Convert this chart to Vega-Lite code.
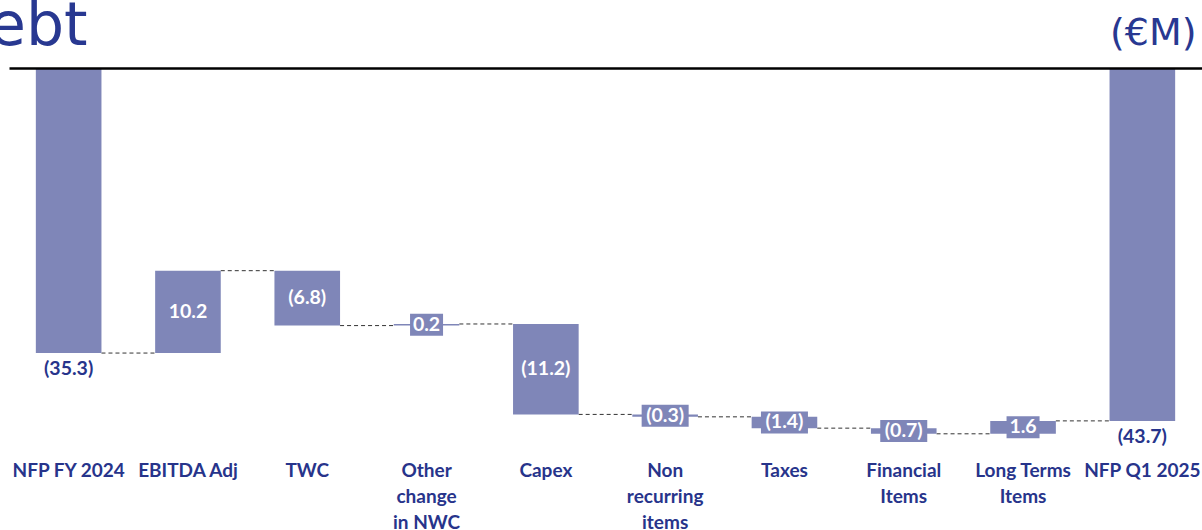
{
  "$schema": "https://vega.github.io/schema/vega-lite/v6.json",
  "width": 1193,
  "height": 387.6,
  "autosize": "none",
  "padding": {"left": 9, "top": 68, "right": 0, "bottom": 74.4},
  "background": "white",
  "config": {"view": {"stroke": null}},
  "title": {"text": "ebt", "anchor": "start", "frame": "group", "font": "DejaVu Sans", "fontSize": 60, "fontWeight": "normal", "color": "#283891", "dx": -20, "offset": -44},
  "datasets": {
    "wf": [
      {"cat": "NFP FY 2024", "start": 0, "end": -35.3, "label": "(35.3)", "next": "EBITDA Adj"},
      {"cat": "EBITDA Adj", "start": -35.3, "end": -25.1, "label": "10.2", "next": "TWC"},
      {"cat": "TWC", "start": -25.1, "end": -31.9, "label": "(6.8)", "next": "Other\nchange\nin NWC"},
      {"cat": "Other\nchange\nin NWC", "start": -31.9, "end": -31.7, "label": "0.2", "next": "Capex"},
      {"cat": "Capex", "start": -31.7, "end": -42.9, "label": "(11.2)", "next": "Non\nrecurring\nitems"},
      {"cat": "Non\nrecurring\nitems", "start": -42.9, "end": -43.2, "label": "(0.3)", "next": "Taxes"},
      {"cat": "Taxes", "start": -43.2, "end": -44.6, "label": "(1.4)", "next": "Financial\nItems"},
      {"cat": "Financial\nItems", "start": -44.6, "end": -45.3, "label": "(0.7)", "next": "Long Terms\nItems"},
      {"cat": "Long Terms\nItems", "start": -45.3, "end": -43.7, "label": "1.6", "next": "NFP Q1 2025"},
      {"cat": "NFP Q1 2025", "start": 0, "end": -43.7, "label": "(43.7)", "next": null}
    ]
  },
  "data": {"name": "wf"},
  "layer": [
    {
      "transform": [{"filter": "datum.next != null"}],
      "mark": {"type": "rule", "color": "#333333", "strokeDash": [4, 3], "strokeWidth": 1},
      "encoding": {
        "x": {"field": "cat", "type": "nominal", "sort": null, "bandPosition": 1,
          "scale": {"domain": ["NFP FY 2024", "EBITDA Adj", "TWC", "Other\nchange\nin NWC", "Capex", "Non\nrecurring\nitems", "Taxes", "Financial\nItems", "Long Terms\nItems", "NFP Q1 2025"], "paddingInner": 0.45, "paddingOuter": 0.225},
          "axis": {"orient": "top", "domain": true, "domainColor": "#000000", "domainWidth": 2.5, "ticks": false, "labels": false, "grid": false, "title": "(€M)", "titleFont": "DejaVu Sans", "titleFontSize": 38, "titleFontWeight": "normal", "titleColor": "#283891", "titleAnchor": "end", "titleAlign": "right", "titleX": 1187, "titlePadding": 16, "zindex": 1}},
        "x2": {"field": "next", "bandPosition": 0},
        "y": {"field": "end", "type": "quantitative", "scale": {"domain": [-48, 0], "nice": false, "zero": false}, "axis": null}
      }
    },
    {
      "mark": {"type": "bar", "color": "#7F86B8"},
      "encoding": {
        "x": {"field": "cat", "type": "nominal", "sort": null,
          "axis": {"orient": "bottom", "domain": false, "ticks": false, "grid": false, "title": null, "labelAngle": 0, "labelExpr": "split(datum.value, '\\n')", "labelFont": "Lato", "labelFontSize": 19, "labelFontWeight": "bold", "labelColor": "#27348B", "labelPadding": 6, "labelLineHeight": 26, "labelLimit": 300}},
        "y": {"field": "start", "type": "quantitative"},
        "y2": {"field": "end"}
      }
    },
    {
      "transform": [
        {"filter": "datum.start != 0 && abs(datum.end - datum.start) < 2"},
        {"fold": ["start", "end"], "as": ["k", "v"]},
        {"aggregate": [{"op": "mean", "field": "v", "as": "mid"}], "groupby": ["cat", "label"]}
      ],
      "mark": {"type": "point", "filled": true, "opacity": 1, "color": "#7F86B8", "strokeWidth": 0},
      "encoding": {
        "x": {"field": "cat", "type": "nominal", "sort": null, "axis": null},
        "y": {"field": "mid", "type": "quantitative"},
        "shape": {"condition": {"test": "indexof(datum.label, '(') == 0", "value": "M-1,-0.468H1V0.468H-1Z"}, "value": "M-1,-0.667H1V0.667H-1Z"},
        "size": {"condition": {"test": "indexof(datum.label, '(') == 0", "value": 2209}, "value": 1089}
      }
    },
    {
      "transform": [
        {"filter": "datum.start != 0"},
        {"fold": ["start", "end"], "as": ["k", "v"]},
        {"aggregate": [{"op": "mean", "field": "v", "as": "mid"}], "groupby": ["cat", "label"]}
      ],
      "mark": {"type": "text", "color": "#FFFFFF", "font": "Lato", "fontSize": 19.5, "fontWeight": "bold", "baseline": "middle", "align": "center"},
      "encoding": {
        "x": {"field": "cat", "type": "nominal", "sort": null, "axis": null},
        "y": {"field": "mid", "type": "quantitative"},
        "text": {"field": "label"}
      }
    },
    {
      "transform": [{"filter": "datum.start == 0"}],
      "mark": {"type": "text", "color": "#27348B", "font": "Lato", "fontSize": 19.5, "fontWeight": "bold", "baseline": "top", "align": "center", "dy": 7},
      "encoding": {
        "x": {"field": "cat", "type": "nominal", "sort": null, "axis": null},
        "y": {"field": "end", "type": "quantitative"},
        "text": {"field": "label"}
      }
    }
  ],
  "resolve": {"axis": {"x": "independent"}}
}
